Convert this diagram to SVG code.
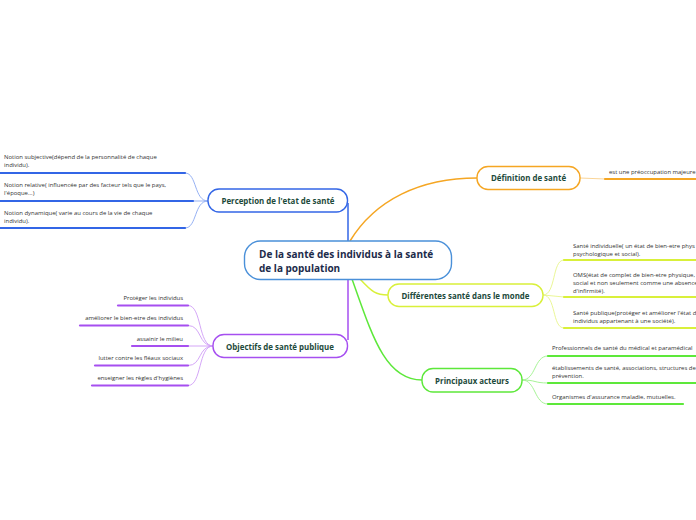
<svg xmlns="http://www.w3.org/2000/svg" width="696" height="520" viewBox="0 0 696 520">
<style>
.bg{fill:#ffffff}
.node{fill:#ffffff;stroke-width:1.4}
.ttl{font-family:"Open Sans","Liberation Sans",sans-serif;font-weight:bold;font-size:7.9px;fill:#1d4a3b}
.ctr{font-family:"Open Sans","Liberation Sans",sans-serif;font-weight:bold;font-size:10px;fill:#1c2b4a}
.it{font-family:"Open Sans","Liberation Sans",sans-serif;font-size:5.95px;fill:#333333}
.ul{fill:none;stroke-width:2.2;stroke-linecap:round}
.br{fill:none;stroke-width:0.9}
.con{fill:none;stroke-width:1.5}
</style>
<rect class="bg" x="0" y="0" width="696" height="520"/>
<g id="connectors">
  <path class="con" d="M350,241 C375,200 420,178 477,178" stroke="#f5a623"/>
  <path class="con" d="M348,242 L348,203" stroke="#3366e6"/>
  <path class="con" d="M348,279 L348,340" stroke="#a64ff0"/>
  <path class="con" d="M360,279 C372,292 376,295 388,295" stroke="#d9f03a"/>
  <path class="con" d="M352,279 C372,335 385,380 422,380" stroke="#5de83a"/>
  <path class="br" d="M580,178 L605,179" stroke="#f8cf8a"/>
  <path class="ul" d="M605,179 L697,179" stroke="#f5a623"/>
  <path class="br" d="M185,173 C197,173 194,201 208,201" stroke="#8aa8f2"/>
  <path class="br" d="M193,201 L208,201" stroke="#8aa8f2"/>
  <path class="br" d="M185,228 C197,228 194,201 208,201" stroke="#8aa8f2"/>
  <path class="ul" d="M0,173 L185,173" stroke="#3366e6"/>
  <path class="ul" d="M0,201 L193,201" stroke="#3366e6"/>
  <path class="ul" d="M0,228 L185,228" stroke="#3366e6"/>
  <path class="br" d="M188,305.5 C202,305.5 198,346 213,346" stroke="#cf9cf6"/>
  <path class="br" d="M188,325.5 C202,325.5 198,346 213,346" stroke="#cf9cf6"/>
  <path class="br" d="M188,346 L213,346" stroke="#cf9cf6"/>
  <path class="br" d="M188,365.5 C202,365.5 198,346 213,346" stroke="#cf9cf6"/>
  <path class="br" d="M188,385.5 C202,385.5 198,346 213,346" stroke="#cf9cf6"/>
  <path class="ul" d="M118,305.5 L188,305.5" stroke="#a64ff0"/>
  <path class="ul" d="M80,325.5 L188,325.5" stroke="#a64ff0"/>
  <path class="ul" d="M132,346 L188,346" stroke="#a64ff0"/>
  <path class="ul" d="M95,365.5 L188,365.5" stroke="#a64ff0"/>
  <path class="ul" d="M92,385.5 L188,385.5" stroke="#a64ff0"/>
  <path class="br" d="M543,295 C556,295 552,260 564,260" stroke="#e8f58a"/>
  <path class="br" d="M543,295 L564,297" stroke="#e8f58a"/>
  <path class="br" d="M543,295 C556,295 552,328 564,328" stroke="#e8f58a"/>
  <path class="ul" d="M564,260 L697,260" stroke="#d9f03a"/>
  <path class="ul" d="M564,297 L697,297" stroke="#d9f03a"/>
  <path class="ul" d="M564,328 L697,328" stroke="#d9f03a"/>
  <path class="br" d="M522,380 C536,380 534,356 548,356" stroke="#9cf28a"/>
  <path class="br" d="M522,380 C536,380 534,383 548,383" stroke="#9cf28a"/>
  <path class="br" d="M522,380 C536,380 534,404 548,404" stroke="#9cf28a"/>
  <path class="ul" d="M548,356 L697,356" stroke="#5de83a"/>
  <path class="ul" d="M548,383 L697,383" stroke="#5de83a"/>
  <path class="ul" d="M548,404 L683,404" stroke="#5de83a"/>
</g>
<g id="central">
  <rect class="node" x="244.5" y="241" width="207" height="38.5" rx="16" stroke="#4a90d9"/>
  <text class="ctr" x="259" y="257.5">De la santé des individus à la santé</text>
  <text class="ctr" x="259" y="271.5">de la population</text>
</g>
<g id="definition">
  <rect class="node" x="477" y="166.5" width="103" height="23" rx="11" stroke="#f5a623"/>
  <text class="ttl" x="528.5" y="181" text-anchor="middle">Définition de santé</text>
  <text class="it" x="609" y="174">est une préoccupation majeure</text>
</g>
<g id="perception">
  <rect class="node" x="208" y="189" width="139.5" height="23" rx="11" stroke="#3366e6"/>
  <text class="ttl" x="278" y="203.5" text-anchor="middle">Perception de l'etat de santé</text>
  <text class="it" x="4" y="159">Notion subjective(dépend de la personnalité de chaque</text>
  <text class="it" x="4" y="167">individu).</text>
  <text class="it" x="4" y="187">Notion relative( influencée par des facteur tels que le pays,</text>
  <text class="it" x="4" y="195">l'époque...)</text>
  <text class="it" x="4" y="215">Notion dynamique( varie au cours de la vie de chaque</text>
  <text class="it" x="4" y="223">individu).</text>
</g>
<g id="differentes">
  <rect class="node" x="388" y="284" width="155" height="22.5" rx="11" stroke="#d9f03a"/>
  <text class="ttl" x="465.5" y="298.5" text-anchor="middle">Différentes santé dans le monde</text>
  <text class="it" x="573" y="248">Santé individuelle( un état de bien-etre phys</text>
  <text class="it" x="573" y="256">psychologique et social).</text>
  <text class="it" x="573" y="277">OMS(état de complet de bien-etre physique,</text>
  <text class="it" x="573" y="285">social et  non seulement comme une absence</text>
  <text class="it" x="573" y="293">d'infirmité).</text>
  <text class="it" x="573" y="315">Santé publique(protéger et améliorer l'état d</text>
  <text class="it" x="573" y="323">individus appartenant à une société).</text>
</g>
<g id="principaux">
  <rect class="node" x="422" y="368.5" width="100" height="23.5" rx="11" stroke="#5de83a"/>
  <text class="ttl" x="472" y="383.5" text-anchor="middle">Principaux acteurs</text>
  <text class="it" x="552" y="350">Professionnels de santé du médical et paramédical</text>
  <text class="it" x="552" y="370">établissements de santé, associations, structures de</text>
  <text class="it" x="552" y="378">prévention.</text>
  <text class="it" x="552" y="399">Organismes d'assurance maladie, mutuelles.</text>
</g>
<g id="objectifs">
  <rect class="node" x="213" y="334.5" width="134.5" height="23" rx="11" stroke="#a64ff0"/>
  <text class="ttl" x="280" y="349.5" text-anchor="middle">Objectifs de santé publique</text>
  <text class="it" x="183" y="300" text-anchor="end">Protéger les individus</text>
  <text class="it" x="183" y="320" text-anchor="end">améliorer le bien-etre des individus</text>
  <text class="it" x="183" y="340.5" text-anchor="end">assainir le milieu</text>
  <text class="it" x="183" y="360" text-anchor="end">lutter contre les fléaux sociaux</text>
  <text class="it" x="183" y="380" text-anchor="end">enseigner les règles d'hygiènes</text>
</g>
</svg>
